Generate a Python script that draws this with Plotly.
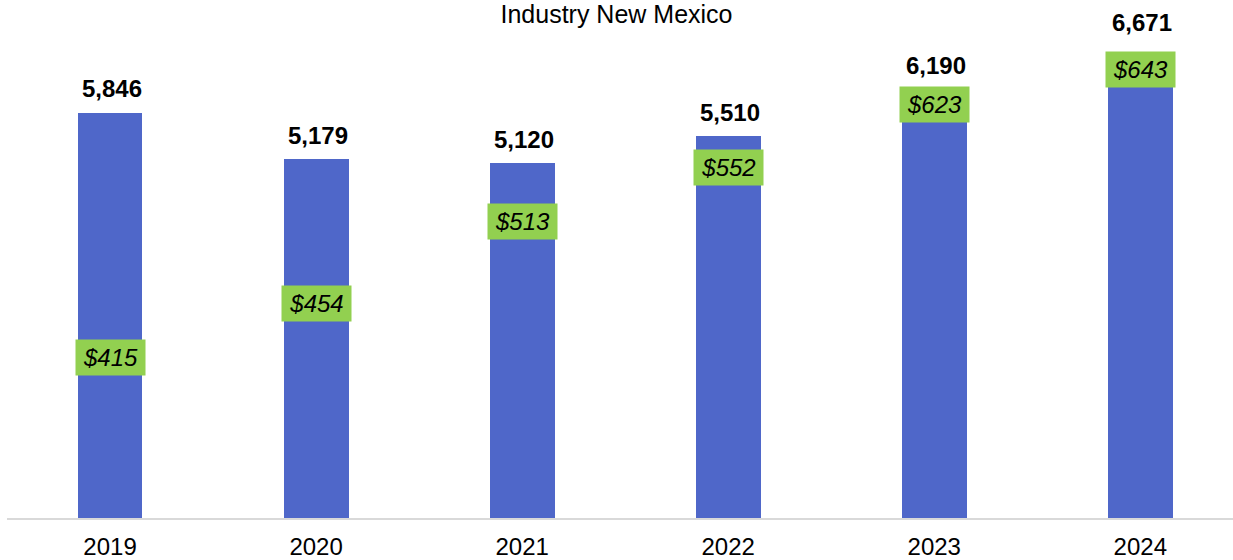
import plotly.graph_objects as go

years = ["2019", "2020", "2021", "2022", "2023", "2024"]
employment = [5846, 5179, 5120, 5510, 6190, 6671]
avg_wage = [415, 454, 513, 552, 623, 643]

BAR_BLUE = "#4F67C9"
LABEL_GREEN = "#92D050"
FONT = "Liberation Sans, Arial, sans-serif"

fig = go.Figure()

fig.add_trace(go.Bar(
    x=years, y=employment, width=0.315,
    marker=dict(color=BAR_BLUE, line=dict(width=0)),
    hoverinfo="x+y",
))

# invisible wage series on the secondary axis, used to anchor the wage tags
fig.add_trace(go.Scatter(
    x=years, y=avg_wage, yaxis="y2", mode="markers",
    marker=dict(size=1, opacity=0), hoverinfo="skip", showlegend=False,
))

# category positions by index (year strings would be read as numbers)
annotations = []
total_nudge = {"2024": 9}
for i, (yr, v) in enumerate(zip(years, employment)):
    annotations.append(dict(
        x=i, y=v, xref="x", yref="y", text=f"<b>{v:,}</b>",
        showarrow=False, yanchor="middle",
        yshift=24 + total_nudge.get(yr, 0), xshift=2,
        font=dict(family=FONT, size=24, color="#000000"),
    ))

# the two highest wage tags are nudged down so they clear the totals above
wage_nudge = {"2023": -35, "2024": -28}
for i, (yr, w) in enumerate(zip(years, avg_wage)):
    annotations.append(dict(
        x=i, y=w, xref="x", yref="y2", text=f"<i>${w}</i>",
        showarrow=False, yanchor="middle", yshift=wage_nudge.get(yr, 0),
        bgcolor=LABEL_GREEN, borderpad=0, width=69, height=35,
        font=dict(family=FONT, size=24, color="#000000"),
    ))

fig.update_layout(
    width=1233, height=560,
    margin=dict(l=7, r=0, t=40, b=42),
    paper_bgcolor="white", plot_bgcolor="white",
    showlegend=False,
    bargap=0,
    title=dict(text="Industry New Mexico", x=0.5, xanchor="center",
               y=1 - 14 / 560, yanchor="middle",
               font=dict(family=FONT, size=25, color="#000000")),
    xaxis=dict(
        type="category", range=[-0.5, 5.45],
        showgrid=False, zeroline=False,
        showline=True, linecolor="#D9D9D9", linewidth=2,
        ticks="", tickfont=dict(family=FONT, size=24, color="#000000"),
        ticklabelstandoff=6,
    ),
    yaxis=dict(range=[0, 6898], visible=False, showgrid=False),
    yaxis2=dict(range=[299.7, 644.1], overlaying="y", side="right",
                visible=False, showgrid=False),
    annotations=annotations,
)

fig.write_html("out.html")
